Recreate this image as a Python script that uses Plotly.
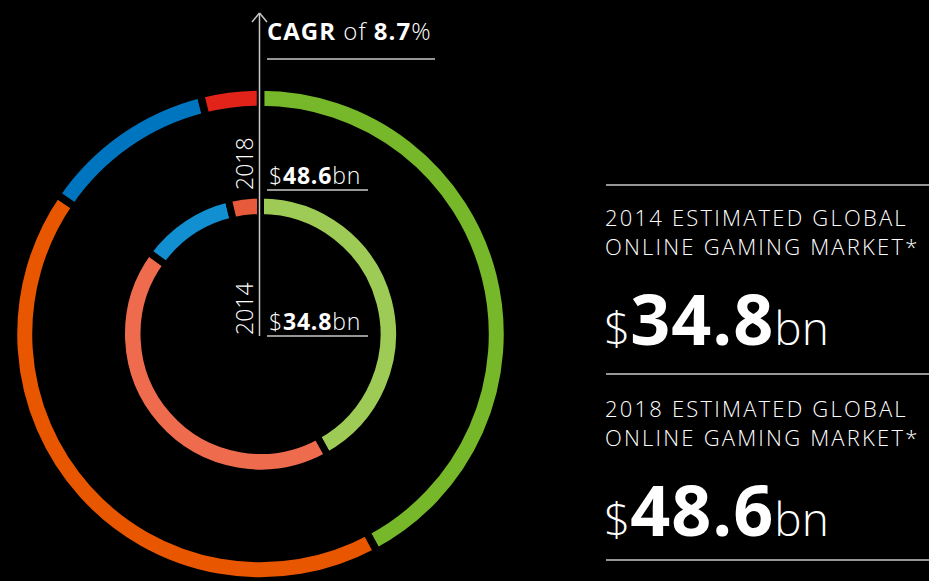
import plotly.graph_objects as go

# ---- data (US$ bn, read from the rings) ----
segments = ["Segment A", "Segment B", "Segment C", "Segment D"]
values_2014 = [14.6, 15.0, 3.9, 1.3]
values_2018 = [20.5, 20.6, 5.6, 1.9]
year_start = 2014
year_end = 2018

colors_2014 = ["#9DCB56", "#EE6C4D", "#128FD0", "#E85A3C"]
colors_2018 = ["#76B82A", "#E85700", "#0075BF", "#E2231A"]

total_2014 = sum(values_2014)
total_2018 = sum(values_2018)
cagr = (total_2018 / total_2014) ** (1 / (year_end - year_start)) - 1

W, H = 929, 581
FONT = "Open Sans"
GREY = "#C8C8C8"


def px(x):
    return x / W


def py(y):
    return 1 - y / H


cx, cy = 260.5, 334.0


def dom(r):
    return dict(x=[px(cx - r), px(cx + r)], y=[max(0, py(cy + r)), py(cy - r)])


fig = go.Figure()
fig.add_trace(go.Pie(
    labels=segments, values=values_2018, sort=False, direction="clockwise",
    rotation=0, hole=0.909, domain=dom(247),
    marker=dict(colors=colors_2018, line=dict(color="black", width=7.5)),
    textinfo="none", hoverinfo="label+value", showlegend=False, name=str(year_end)))
fig.add_trace(go.Pie(
    labels=segments, values=values_2014, sort=False, direction="clockwise",
    rotation=0, hole=0.8381, domain=dom(139),
    marker=dict(colors=colors_2014, line=dict(color="black", width=7)),
    textinfo="none", hoverinfo="label+value", showlegend=False, name=str(year_start)))

shapes = []


def seg(x0, y0, x1, y1, w=1.5):
    shapes.append(dict(type="line", xref="paper", yref="paper",
                       x0=px(x0), x1=px(x1), y0=py(y0), y1=py(y1),
                       line=dict(color=GREY, width=w)))


def hline(x0, x1, y, w=1.5):
    seg(x0, y, x1, y, w)


# vertical axis with arrow
seg(259.5, 13, 259.5, 336)
seg(252, 22, 259.5, 13)
seg(267, 22, 259.5, 13)
hline(267, 435, 59)
hline(267, 368, 190)
hline(267, 368, 336)
hline(606, 929, 185)
hline(606, 929, 374)
hline(606, 929, 560)

ann = []


def text(x, y, s, size, xanchor="left", yanchor="middle", angle=0):
    ann.append(dict(x=px(x), y=py(y), xref="paper", yref="paper", text=s,
                    showarrow=False, xanchor=xanchor, yanchor=yanchor,
                    textangle=angle, align="left",
                    font=dict(family=FONT, size=size, color="white", weight=300)))


def sp(s, ls):
    return f'<span style="letter-spacing:{ls}px">{s}</span>'


text(265, 31, sp(f"<b>CAGR</b> of <b>{cagr*100:.1f}</b>%", 1), 24)
text(244, 164, str(year_end), 23, xanchor="center", angle=-90)
text(244, 309, str(year_start), 23, xanchor="center", angle=-90)
text(267, 175, sp(f"$<b>{total_2018:.1f}</b>bn", 0.8), 23)
text(267, 321, sp(f"$<b>{total_2014:.1f}</b>bn", 0.8), 23)

text(603, 232, sp(f"{year_start} ESTIMATED GLOBAL", 2.2) + "<br>" + sp("ONLINE GAMING MARKET*", 2.2), 22)
text(603, 422, sp(f"{year_end} ESTIMATED GLOBAL", 2.2) + "<br>" + sp("ONLINE GAMING MARKET*", 2.2), 22)
big = ('<span style="font-size:46px">$</span><span style="letter-spacing:1px"><b>{:.1f}</b></span>'
       '<span style="font-size:46px">bn</span>')
text(602, 318, big.format(total_2014), 70)
text(602, 509, big.format(total_2018), 70)

fig.update_layout(
    width=W, height=H, margin=dict(l=0, r=0, t=0, b=0),
    paper_bgcolor="black", plot_bgcolor="black",
    shapes=shapes, annotations=ann, showlegend=False,
)

fig.write_html(
    "out.html",
    config={"displayModeBar": False},
    post_script="document.body.style.margin='0';document.body.style.overflow='hidden';document.body.style.background='black';",
)
